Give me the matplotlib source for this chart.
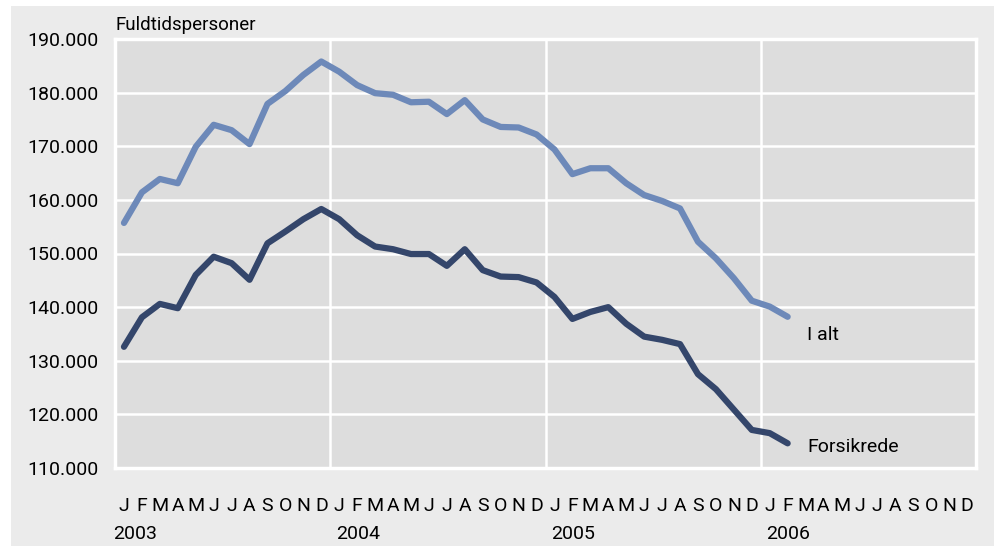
import matplotlib.pyplot as plt
from matplotlib.patches import Rectangle

# Monthly values, Jan 2003 - Feb 2006 (fuldtidspersoner)
i_alt = [155700, 161400, 163900, 163100, 169900, 174000, 173000, 170400,
         177900, 180300, 183300, 185800,
         183900, 181400, 179900, 179600, 178200, 178300, 176000, 178600,
         175000, 173600, 173500, 172200,
         169400, 164800, 165900, 165900, 163100, 160900, 159800, 158400,
         152200, 149100, 145400, 141200,
         140100, 138200]
forsikrede = [132600, 138100, 140600, 139800, 146000, 149400, 148200, 145100,
              151900, 154100, 156400, 158300,
              156400, 153400, 151300, 150800, 149900, 149900, 147700, 150800,
              146900, 145700, 145600, 144600,
              141900, 137800, 139100, 140000, 136900, 134500, 133900, 133100,
              127500, 124700, 120900, 117100,
              116500, 114600]
months = ["J", "F", "M", "A", "M", "J", "J", "A", "S", "O", "N", "D"]
years = ["2003", "2004", "2005", "2006"]
yticks = [110000, 120000, 130000, 140000, 150000, 160000, 170000, 180000, 190000]

LIGHT = "#6d89b9"
DARK = "#34466b"
OUTER = "#ebebeb"
INNER = "#dddddd"

plt.rcParams["font.family"] = ["Roboto", "DejaVu Sans"]

W, H = 997, 546
fig = plt.figure(figsize=(W / 100, H / 100), dpi=100)
fig.patch.set_facecolor("white")
fig.patches.append(Rectangle((11 / W, 0), (994 - 11) / W, 1 - 6 / H,
                             transform=fig.transFigure, facecolor=OUTER,
                             edgecolor="none", zorder=-10))

ax = fig.add_axes([115 / W, 1 - 468 / H, (976 - 115) / W, (468 - 39) / H])
ax.set_facecolor(INNER)

x = [i + 0.5 for i in range(len(i_alt))]
ax.plot(x, i_alt, color=LIGHT, lw=4.5, solid_capstyle="round",
        solid_joinstyle="round", zorder=3)
ax.plot(x, forsikrede, color=DARK, lw=4.5, solid_capstyle="round",
        solid_joinstyle="round", zorder=3)

ax.set_xlim(0, 48)
ax.set_ylim(110000, 190000)

for yv in yticks:
    ax.axhline(yv, color="white", lw=1.8, zorder=1)
for k in range(1, 4):
    ax.axvline(12 * k, color="white", lw=1.8, zorder=1)
for s in ax.spines.values():
    s.set_color("white")
    s.set_linewidth(2.5)

ax.set_yticks(yticks)
ax.set_yticklabels([f"{v:,}".replace(",", ".") for v in yticks], fontsize=14)
ax.tick_params(axis="y", length=0, pad=12)
ax.set_xticks([])

# month letters and years under the axis
for k, yr in enumerate(years):
    for m, lab in enumerate(months):
        ax.text(12 * k + m + 0.5, 103000, lab, ha="center", va="center",
                fontsize=14)
    ax.text(12 * k + 0.3 if k else -0.1, 97600, yr, ha="left", va="center",
            fontsize=14)

ax.text(0, 192600, "Fuldtidspersoner", ha="left", va="center", fontsize=13.5)
ax.text(38.6, 134800, "I alt", ha="left", va="center", fontsize=14)
ax.text(38.6, 113900, "Forsikrede", ha="left", va="center", fontsize=14)

fig.savefig("out.png", dpi=100)
